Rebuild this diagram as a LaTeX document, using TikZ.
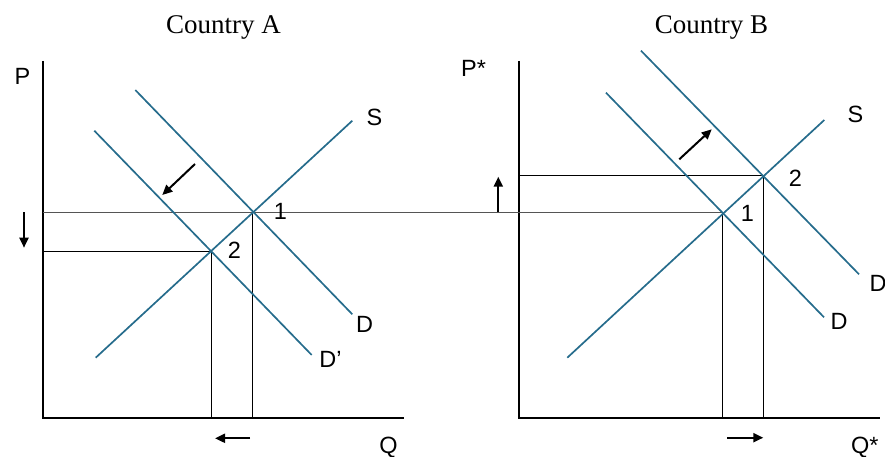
\documentclass[tikz,border=0pt]{standalone}
\usepackage{fontspec}
\setmainfont{Liberation Sans}
\newfontfamily\titlefont{Liberation Serif}
\usetikzlibrary{arrows.meta}
\definecolor{curveblue}{RGB}{38,108,140}
\definecolor{guidegray}{RGB}{85,85,85}
\begin{document}
\begin{tikzpicture}[x=1bp,y=-1bp,
  curve/.style={draw=curveblue, line width=1.7bp},
  axis/.style={draw=black, line width=2.2bp, line join=miter},
  guide/.style={draw=black, line width=0.9bp},
  guidelight/.style={draw=guidegray, line width=1bp},
  shiftarrow/.style={draw=black, line width=2bp, -{Triangle[length=10bp,width=9bp]}},
  lbl/.style={font=\fontsize{23.5bp}{28bp}\selectfont, inner sep=0pt, anchor=base},
  ttl/.style={font=\titlefont\fontsize{27bp}{31bp}\selectfont, inner sep=0pt, anchor=base}]
\useasboundingbox (0,0) rectangle (885,457);

% ---------------- Country A ----------------
\coordinate (Atop) at (43,61);
\coordinate (Ao) at (43,418);
\coordinate (Aend) at (404,418);
\draw[axis] (Atop) -- (Ao) -- (Aend);

\coordinate (A1) at (252.3,212.3);
\coordinate (A2) at (211.3,251);
\coordinate (A1x) at (252.3,418);
\coordinate (A2x) at (211.3,418);
\coordinate (A1y) at (43,212.3);
\coordinate (A2y) at (43,251);

\coordinate (ASa) at (95.7,357.7);
\coordinate (ASb) at (352.3,120.7);
\coordinate (ADa) at (135.3,90);
\coordinate (ADb) at (352.3,314.3);
\coordinate (ADpa) at (94.3,130.7);
\coordinate (ADpb) at (311.7,355);

% ---------------- Country B ----------------
\coordinate (Btop) at (519,61);
\coordinate (Bo) at (519,418);
\coordinate (Bend) at (880,418);
\draw[axis] (Btop) -- (Bo) -- (Bend);

\coordinate (B1) at (722.7,212.3);
\coordinate (B2) at (763.3,175.7);
\coordinate (B1x) at (722.7,418);
\coordinate (B2x) at (763.3,418);
\coordinate (B2y) at (519,175.7);

\coordinate (BSa) at (567.3,357.7);
\coordinate (BSb) at (824.3,120);
\coordinate (BDa) at (606,92.7);
\coordinate (BDb) at (824,317.3);
\coordinate (BDpa) at (641,50.7);
\coordinate (BDpb) at (859,274.3);

% guide lines
\draw[guidelight] (A1y) -- (B1);
\draw[guide] (A2y) -- (A2) -- (A2x);
\draw[guide] (A1) -- (A1x);
\draw[guide] (B2y) -- (B2) -- (B2x);
\draw[guide] (B1) -- (B1x);

% curves
\draw[curve] (ASa) -- (ASb);
\draw[curve] (ADa) -- (ADb);
\draw[curve] (ADpa) -- (ADpb);
\draw[curve] (BSa) -- (BSb);
\draw[curve] (BDa) -- (BDb);
\draw[curve] (BDpa) -- (BDpb);

% shift arrows
\coordinate (aSh1) at (195,164);
\coordinate (aSh2) at (162.3,195);
\draw[shiftarrow] (aSh1) -- (aSh2);
\coordinate (aDn1) at (24,212.3);
\coordinate (aDn2) at (24,247.7);
\draw[shiftarrow] (aDn1) -- (aDn2);
\coordinate (aLf1) at (250,438.3);
\coordinate (aLf2) at (215,438.3);
\draw[shiftarrow] (aLf1) -- (aLf2);

\coordinate (bSh1) at (679.3,159.3);
\coordinate (bSh2) at (711.7,129.3);
\draw[shiftarrow] (bSh1) -- (bSh2);
\coordinate (bUp1) at (498.3,211.7);
\coordinate (bUp2) at (498.3,176.7);
\draw[shiftarrow] (bUp1) -- (bUp2);
\coordinate (bRt1) at (727.3,437.7);
\coordinate (bRt2) at (763.3,437.7);
\draw[shiftarrow] (bRt1) -- (bRt2);

% titles
\node[ttl] (titleA) at (223.5,33.5) {Country A};
\node[ttl] (titleB) at (711.5,33.5) {Country B};

% labels A
\node[lbl] (lP) at (22.5,85) {P};
\node[lbl] (lSA) at (374.5,126) {S};
\node[lbl] (lDA) at (364.5,333) {D};
\node[lbl] (lDpA) at (330.5,368) {D’};
\node[lbl] (l1A) at (280.5,220) {1};
\node[lbl] (l2A) at (234.5,259) {2};
\node[lbl] (lQ) at (388.5,453) {Q};

% labels B
\node[lbl] (lPs) at (473.5,77) {P*};
\node[lbl] (lSB) at (855.5,123) {S};
\node[lbl] (l1B) at (747.5,222) {1};
\node[lbl] (l2B) at (795.5,187) {2};
\node[lbl] (lDB) at (839,329.5) {D};
\node[lbl] (lDpB) at (878,291.5) {D};
\node[lbl, anchor=base west] (lQs) at (851,453) {Q*};
\end{tikzpicture}
\end{document}
